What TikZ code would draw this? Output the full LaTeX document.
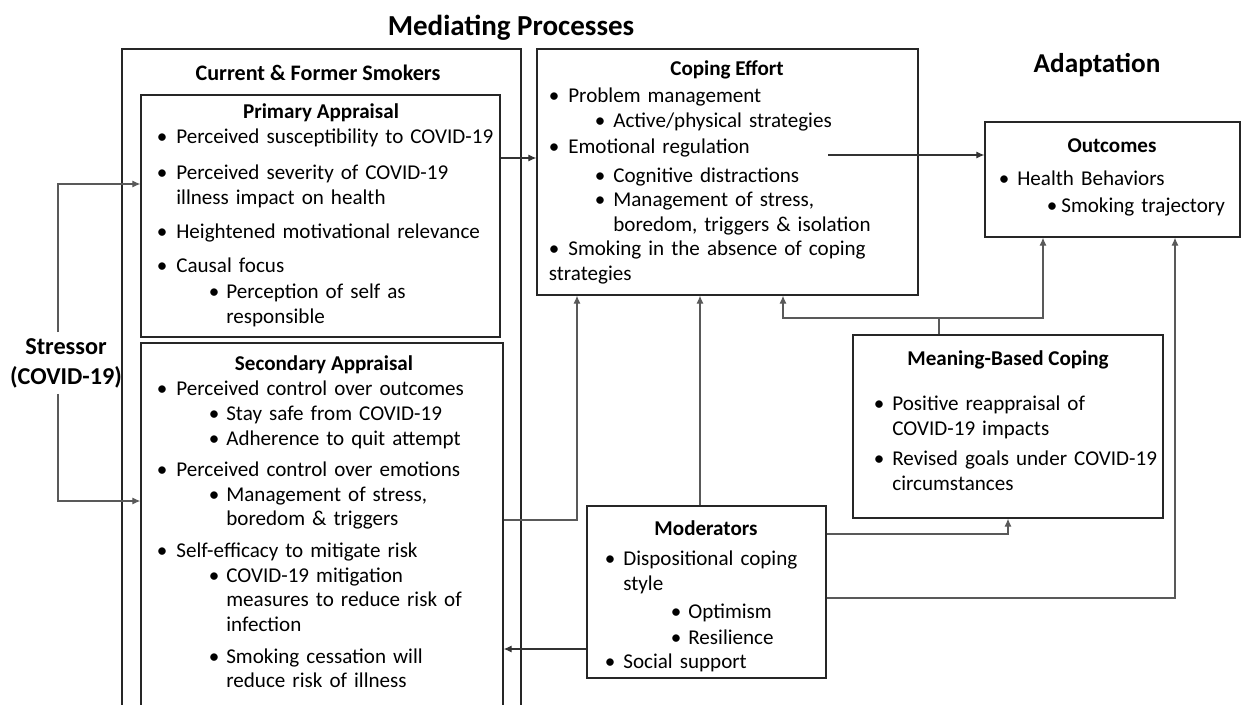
\documentclass[tikz,border=0pt]{standalone}
\usepackage{fontspec}
\setmainfont{Carlito}
\usetikzlibrary{arrows.meta,fit}

% bullet indents: first level text, second level bullet, second level text
\newlength{\wa}\newlength{\wo}\newlength{\wb}
\newcommand{\ind}[3]{\setlength{\wa}{#1}\setlength{\wo}{#2}\setlength{\wb}{#3}}
\newcommand{\ptA}[2][0pt]{\par\vspace{#1}\hangindent=\wa\hangafter=1\noindent\makebox[\wa][l]{\textbullet}#2\par}
\newcommand{\ptB}[2][0pt]{\par\vspace{#1}\hangindent=\dimexpr\wo+\wb\relax\hangafter=1\noindent\hspace*{\wo}\makebox[\wb][l]{\textbullet}#2\par}

\begin{document}
\begin{tikzpicture}[x=0.02cm, y=-0.02cm,
  frame/.style={draw=black!85, line width=0.8pt, inner sep=0pt},
  ttl/.style={font=\fontsize{12}{14}\selectfont\bfseries},
  head/.style={font=\fontsize{16.5}{19}\selectfont\bfseries},
  body/.style={anchor=north west, inner sep=0pt, text width=9cm, align=left, font=\fontsize{12}{14}\selectfont},
  conn/.style={draw=black!65, line width=0.6pt, -{Latex[length=4.5pt,width=4pt]}}]
\useasboundingbox (0,0) rectangle (1242,704);
\clip (0,0) rectangle (1242,704);

% headings
\node[head] (medp) at (511,28) {Mediating Processes};
\node[head, font=\fontsize{15.5}{18}\selectfont\bfseries] (adap) at (1097,65) {Adaptation};
\node[head, font=\fontsize{13.8}{17}\selectfont\bfseries, align=center] (stress) at (66,363) {Stressor\\(COVID-19)};

% current and former smokers
\node[frame, fit={(122,49) (521,730)}] (smok) {};
\node[font=\fontsize{12.6}{15}\selectfont\bfseries] (smokttl) at (318,73) {Current \& Former Smokers};

\node[frame, fit={(141,95) (500,337)}] (prim) {};
\node[ttl] (primttl) at (321,113) {Primary Appraisal};
\node[body] (primtxt) at (156.5,119) {\ind{0.39cm}{1.04cm}{0.35cm}%
\ptA{Perceived susceptibility to COVID-19}
\ptA[6.5pt]{Perceived severity of COVID-19\newline illness impact on health}
\ptA[5.3pt]{Heightened motivational relevance}
\ptA[5.3pt]{Causal focus}
\ptB[1pt]{Perception of self as\newline responsible}};

\node[frame, fit={(141,343) (503,730)}] (sec) {};
\node[ttl] (secttl) at (324,365) {Secondary Appraisal};
\node[body] (sectxt) at (156.5,371) {\ind{0.39cm}{1.04cm}{0.35cm}%
\ptA{Perceived control over outcomes}
\ptB{Stay safe from COVID-19}
\ptB{Adherence to quit attempt}
\ptA[4pt]{Perceived control over emotions}
\ptB{Management of stress,\newline boredom \& triggers}
\ptA[4pt]{Self-efficacy to mitigate risk}
\ptB{COVID-19 mitigation\newline measures to reduce risk of\newline infection}
\ptB[4pt]{Smoking cessation will\newline reduce risk of illness}};

% coping effort
\node[frame, fit={(537,49) (918,295)}] (cope) {};
\node[ttl] (copettl) at (727,70) {Coping Effort};
\node[body] (copetxt) at (548.5,78) {\ind{0.39cm}{0.92cm}{0.37cm}%
\ptA{Problem management}
\ptB{Active/physical strategies}
\ptA[1pt]{Emotional regulation}
\ptB[2pt]{Cognitive distractions}
\ptB{Management of stress,\newline boredom, triggers \& isolation}
\ptA{Smoking in the absence of coping}
\noindent strategies};

% adaptation side
\node[frame, fit={(985,122) (1240,237)}] (outc) {};
\node[ttl] (outcttl) at (1112,146) {Outcomes};
\node[body] (outctxt) at (998.5,161) {\ind{0.37cm}{0.96cm}{0.29cm}%
\ptA{Health Behaviors}
\ptB[1pt]{Smoking trajectory}};

\node[frame, fit={(853,335) (1163,518)}] (mean) {};
\node[ttl] (meanttl) at (1008,360) {Meaning-Based Coping};
\node[body] (meantxt) at (873.5,386) {\ind{0.37cm}{0cm}{0cm}%
\ptA{Positive reappraisal of\newline COVID-19 impacts}
\ptA[3pt]{Revised goals under COVID-19\newline circumstances}};

\node[frame, fit={(587,506) (826,678)}] (mod) {};
\node[ttl] (modttl) at (706,528) {Moderators};
\node[body] (modtxt) at (604.5,541) {\ind{0.37cm}{1.32cm}{0.35cm}%
\ptA{Dispositional coping\newline style}
\ptB[2pt]{Optimism}
\ptB[0.5pt]{Resilience}
\ptA{Social support}};

% connectors
\coordinate (ya) at (0,184);
\coordinate (yb) at (0,501);
\coordinate (yc) at (0,158);
\coordinate (ce) at (828,155);
\coordinate (kc) at (577,520);
\coordinate (kd) at (700,0);
\coordinate (ke) at (0,649);
\coordinate (kf) at (0,534);
\coordinate (kg) at (1175,598);
\coordinate (kh) at (939,318);
\coordinate (ki) at (783,0);
\coordinate (kj) at (1043,0);
\draw[conn] ([xshift=-0.16cm]stress.north) |- (prim.west |- ya);
\draw[conn] ([xshift=-0.16cm]stress.south) |- (sec.west |- yb);
\draw[conn, draw=black!80] (prim.east |- yc) -- (cope.west |- yc);
\draw[conn, draw=black!80] (ce) -- (outc.west |- ce);
\draw[conn] (sec.east |- kc) -| (cope.south -| kc);
\draw[conn] (mod.north -| kd) -- (cope.south -| kd);
\draw[conn, draw=black!80] (mod.west |- ke) -- (sec.east |- ke);
\draw[conn] (mod.east |- kf) -| (mean.south);
\draw[conn] (mod.east |- kg) -| (outc.south -| kg);
\draw[conn] (mean.north -| kh) -- (kh) -| (cope.south -| ki);
\draw[conn] (kh) -| (outc.south -| kj);
\end{tikzpicture}
\end{document}
